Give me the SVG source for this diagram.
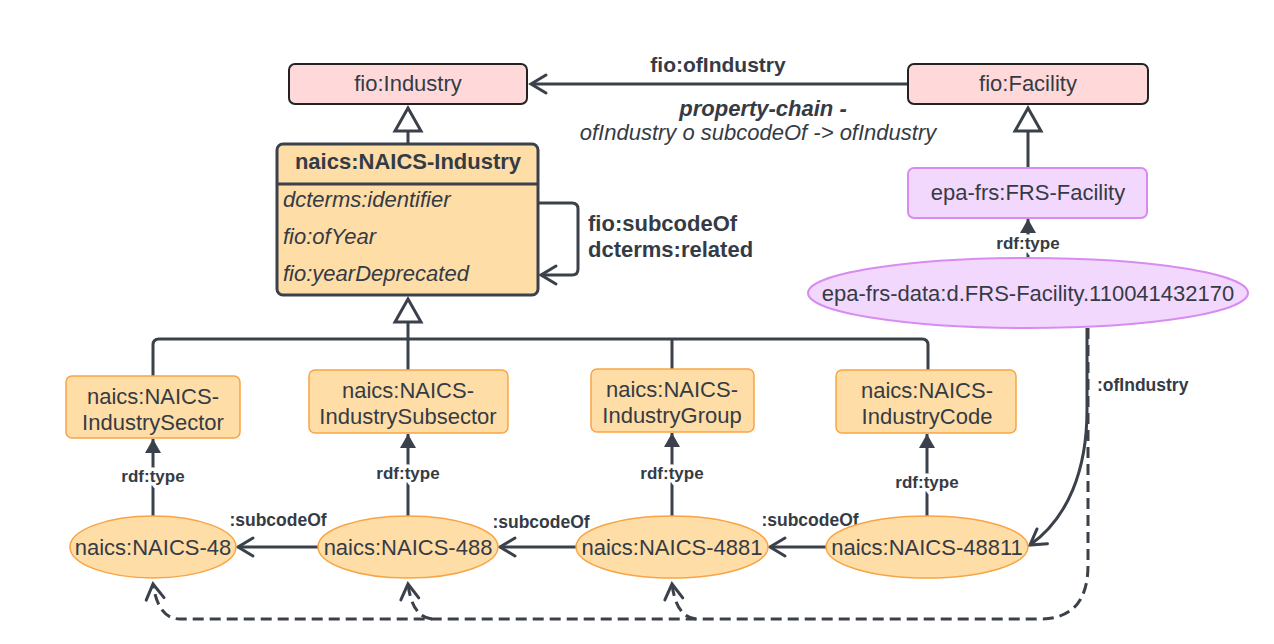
<svg xmlns="http://www.w3.org/2000/svg" width="1274" height="644" viewBox="0 0 1274 644">
<style>
text{font-family:"Liberation Sans",Arial,sans-serif;fill:#353b45}
.n{font-size:22px;text-anchor:middle}
.b{font-weight:bold}
.i{font-style:italic}
.lbl{font-weight:bold;font-size:17px;text-anchor:middle;paint-order:stroke;stroke:#fff;stroke-width:7px;stroke-linejoin:round}
.ln{fill:none;stroke:#3a414a;stroke-width:3}
.dash{stroke-dasharray:11 6}
.pink{fill:#ffd9d9;stroke:#222;stroke-width:2}
.org{fill:#ffdda6;stroke:#f9a444;stroke-width:1.5}
.pur{fill:#f3d8fd;stroke:#d88cf2;stroke-width:2}
.tri{fill:#fff;stroke:#3a414a;stroke-width:3;stroke-linejoin:miter}
</style>
<defs>
<marker id="open" viewBox="-20 -12 24 24" markerWidth="24" markerHeight="24" refX="0" refY="0" orient="auto" markerUnits="userSpaceOnUse">
<path d="M-15,-9 L0,0 L-15,9" fill="none" stroke="#3a414a" stroke-width="3" stroke-linecap="round" stroke-linejoin="miter"/>
</marker>
<marker id="fill" viewBox="-16 -10 18 20" markerWidth="18" markerHeight="20" refX="0" refY="0" orient="auto" markerUnits="userSpaceOnUse">
<path d="M-14,-8 L0,0 L-14,8 Z" fill="#3a414a"/>
</marker>
</defs>

<g id="connectors">
<path class="ln" d="M908 84 H531" marker-end="url(#open)"/>
<path class="ln" d="M408 131 V144"/>
<polygon class="tri" points="408,108 395,131 421,131"/>
<path class="ln" d="M538 203 H572 Q578 203 578 209 V269 Q578 275 572 275 H541" marker-end="url(#open)"/>
<path class="ln" d="M408 322 V339"/>
<polygon class="tri" points="408,299 395,322 421,322"/>
<path class="ln" d="M153 376 V345 Q153 339 159 339 H922 Q928 339 928 345 V370"/>
<path class="ln" d="M408 339 V370"/>
<path class="ln" d="M672 339 V369"/>
<path class="ln" d="M1028 131 V168"/>
<polygon class="tri" points="1028,108 1015,131 1041,131"/>
<path class="ln" d="M1028 258 V219" marker-end="url(#fill)"/>
<path class="ln" d="M153 516 V439" marker-end="url(#fill)"/>
<path class="ln" d="M408 516 V434" marker-end="url(#fill)"/>
<path class="ln" d="M672 516 V433" marker-end="url(#fill)"/>
<path class="ln" d="M927 516 V434" marker-end="url(#fill)"/>
<path class="ln" d="M318 547 H238" marker-end="url(#open)"/>
<path class="ln" d="M577 547 H500" marker-end="url(#open)"/>
<path class="ln" d="M826 547 H770" marker-end="url(#open)"/>
<path class="ln" d="M1087 328 V410 C1087 470 1068 518 1030 545" marker-end="url(#open)"/>
<path class="ln dash" d="M1088 328 V565 Q1088 619 1040 619 H180 Q158 619 153 584" marker-end="url(#open)"/>
<path class="ln dash" d="M432 619 Q412 617 408 584" marker-end="url(#open)"/>
<path class="ln dash" d="M696 619 Q676 617 672 584" marker-end="url(#open)"/>
<text class="b" x="718" y="72" font-size="21" text-anchor="middle">fio:ofIndustry</text>
<text class="b i" x="763" y="116" font-size="22" text-anchor="middle">property-chain -</text>
<text class="i" x="758" y="140" font-size="22" text-anchor="middle">ofIndustry o subcodeOf -&gt; ofIndustry</text>
<text class="b" x="588" y="231" font-size="22">fio:subcodeOf</text>
<text class="b" x="588" y="257" font-size="22">dcterms:related</text>
<text class="lbl" x="1028" y="249">rdf:type</text>
<text class="lbl" x="153" y="482">rdf:type</text>
<text class="lbl" x="408" y="479">rdf:type</text>
<text class="lbl" x="672" y="479">rdf:type</text>
<text class="lbl" x="927" y="488">rdf:type</text>
<text class="b" x="278" y="526" font-size="17.5" text-anchor="middle">:subcodeOf</text>
<text class="b" x="541" y="528" font-size="17.5" text-anchor="middle">:subcodeOf</text>
<text class="b" x="810" y="526" font-size="17.5" text-anchor="middle">:subcodeOf</text>
<text class="b" x="1097" y="391" font-size="17.5">:ofIndustry</text>
</g>

<g id="fio-industry">
<rect class="pink" x="289" y="64" width="238" height="40" rx="6"/>
<text class="n" x="408" y="91">fio:Industry</text>
</g>
<g id="fio-facility">
<rect class="pink" x="908" y="64" width="240" height="40" rx="6"/>
<text class="n" x="1028" y="91">fio:Facility</text>
</g>
<g id="naics-industry">
<rect x="277" y="144" width="261" height="151" rx="6" fill="#ffdda6" stroke="#3a414a" stroke-width="3"/>
<line x1="277" y1="184" x2="538" y2="184" stroke="#3a414a" stroke-width="3"/>
<text class="n b" x="408" y="169">naics:NAICS-Industry</text>
<text class="i" x="283" y="207" font-size="22">dcterms:identifier</text>
<text class="i" x="283" y="244" font-size="22">fio:ofYear</text>
<text class="i" x="283" y="281" font-size="22">fio:yearDeprecated</text>
</g>
<g id="frs-facility">
<rect class="pur" x="908" y="168" width="239" height="50" rx="6"/>
<text class="n" x="1028" y="200">epa-frs:FRS-Facility</text>
</g>
<g id="frs-facility-instance">
<ellipse class="pur" cx="1028" cy="293" rx="220" ry="35"/>
<text class="n" x="1028" y="301">epa-frs-data:d.FRS-Facility.110041432170</text>
</g>
<g id="industry-sector">
<rect class="org" x="66" y="376" width="174" height="62" rx="6"/>
<text class="n" x="153" y="404">naics:NAICS-</text>
<text class="n" x="153" y="430">IndustrySector</text>
</g>
<g id="industry-subsector">
<rect class="org" x="309" y="370" width="199" height="63" rx="6"/>
<text class="n" x="408" y="398">naics:NAICS-</text>
<text class="n" x="408" y="424">IndustrySubsector</text>
</g>
<g id="industry-group">
<rect class="org" x="591" y="369" width="163" height="63" rx="6"/>
<text class="n" x="672" y="397">naics:NAICS-</text>
<text class="n" x="672" y="423">IndustryGroup</text>
</g>
<g id="industry-code">
<rect class="org" x="836" y="370" width="180" height="63" rx="6"/>
<text class="n" x="927" y="398">naics:NAICS-</text>
<text class="n" x="927" y="424">IndustryCode</text>
</g>
<g id="naics-48">
<ellipse class="org" cx="153" cy="547" rx="83" ry="31"/>
<text class="n" x="153" y="555">naics:NAICS-48</text>
</g>
<g id="naics-488">
<ellipse class="org" cx="408" cy="547" rx="90" ry="31"/>
<text class="n" x="408" y="555">naics:NAICS-488</text>
</g>
<g id="naics-4881">
<ellipse class="org" cx="672" cy="547" rx="96" ry="31"/>
<text class="n" x="672" y="555">naics:NAICS-4881</text>
</g>
<g id="naics-48811">
<ellipse class="org" cx="927" cy="547" rx="101" ry="31"/>
<text class="n" x="927" y="555">naics:NAICS-48811</text>
</g>
</svg>
